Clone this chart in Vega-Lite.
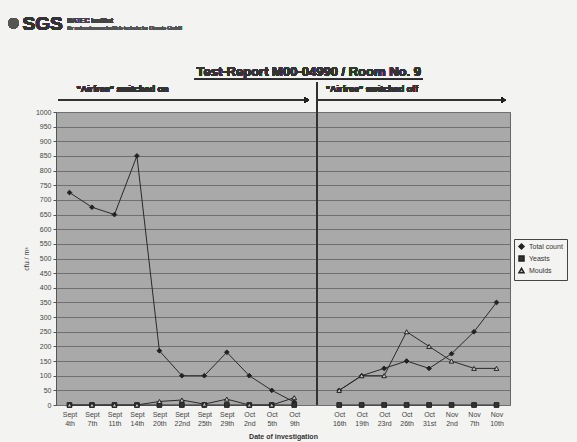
{
  "$schema": "https://vega.github.io/schema/vega-lite/v6.json",
  "width": 454,
  "height": 293,
  "autosize": "none",
  "padding": {"left": 56, "top": 112, "right": 67, "bottom": 37},
  "background": "#f3f3f1",
  "config": {
    "font": "Liberation Sans",
    "view": {"stroke": "#666", "fill": "#a9a9a9"}
  },
  "datasets": {
    "counts": [
      {"date": "Sept 4th", "series": "Total count", "value": 725, "period": 1},
      {"date": "Sept 7th", "series": "Total count", "value": 675, "period": 1},
      {"date": "Sept 11th", "series": "Total count", "value": 650, "period": 1},
      {"date": "Sept 14th", "series": "Total count", "value": 850, "period": 1},
      {"date": "Sept 20th", "series": "Total count", "value": 185, "period": 1},
      {"date": "Sept 22nd", "series": "Total count", "value": 100, "period": 1},
      {"date": "Sept 25th", "series": "Total count", "value": 100, "period": 1},
      {"date": "Sept 29th", "series": "Total count", "value": 180, "period": 1},
      {"date": "Oct 2nd", "series": "Total count", "value": 100, "period": 1},
      {"date": "Oct 5th", "series": "Total count", "value": 50, "period": 1},
      {"date": "Oct 9th", "series": "Total count", "value": 10, "period": 1},
      {"date": "Oct 16th", "series": "Total count", "value": 50, "period": 2},
      {"date": "Oct 19th", "series": "Total count", "value": 100, "period": 2},
      {"date": "Oct 23rd", "series": "Total count", "value": 125, "period": 2},
      {"date": "Oct 26th", "series": "Total count", "value": 150, "period": 2},
      {"date": "Oct 31st", "series": "Total count", "value": 125, "period": 2},
      {"date": "Nov 2nd", "series": "Total count", "value": 175, "period": 2},
      {"date": "Nov 7th", "series": "Total count", "value": 250, "period": 2},
      {"date": "Nov 10th", "series": "Total count", "value": 350, "period": 2},
      {"date": "Sept 4th", "series": "Yeasts", "value": 0, "period": 1},
      {"date": "Sept 7th", "series": "Yeasts", "value": 0, "period": 1},
      {"date": "Sept 11th", "series": "Yeasts", "value": 0, "period": 1},
      {"date": "Sept 14th", "series": "Yeasts", "value": 0, "period": 1},
      {"date": "Sept 20th", "series": "Yeasts", "value": 0, "period": 1},
      {"date": "Sept 22nd", "series": "Yeasts", "value": 0, "period": 1},
      {"date": "Sept 25th", "series": "Yeasts", "value": 0, "period": 1},
      {"date": "Sept 29th", "series": "Yeasts", "value": 0, "period": 1},
      {"date": "Oct 2nd", "series": "Yeasts", "value": 0, "period": 1},
      {"date": "Oct 5th", "series": "Yeasts", "value": 0, "period": 1},
      {"date": "Oct 9th", "series": "Yeasts", "value": 0, "period": 1},
      {"date": "Oct 16th", "series": "Yeasts", "value": 0, "period": 2},
      {"date": "Oct 19th", "series": "Yeasts", "value": 0, "period": 2},
      {"date": "Oct 23rd", "series": "Yeasts", "value": 0, "period": 2},
      {"date": "Oct 26th", "series": "Yeasts", "value": 0, "period": 2},
      {"date": "Oct 31st", "series": "Yeasts", "value": 0, "period": 2},
      {"date": "Nov 2nd", "series": "Yeasts", "value": 0, "period": 2},
      {"date": "Nov 7th", "series": "Yeasts", "value": 0, "period": 2},
      {"date": "Nov 10th", "series": "Yeasts", "value": 0, "period": 2},
      {"date": "Sept 4th", "series": "Moulds", "value": 0, "period": 1},
      {"date": "Sept 7th", "series": "Moulds", "value": 0, "period": 1},
      {"date": "Sept 11th", "series": "Moulds", "value": 0, "period": 1},
      {"date": "Sept 14th", "series": "Moulds", "value": 0, "period": 1},
      {"date": "Sept 20th", "series": "Moulds", "value": 12, "period": 1},
      {"date": "Sept 22nd", "series": "Moulds", "value": 17, "period": 1},
      {"date": "Sept 25th", "series": "Moulds", "value": 3, "period": 1},
      {"date": "Sept 29th", "series": "Moulds", "value": 20, "period": 1},
      {"date": "Oct 2nd", "series": "Moulds", "value": 0, "period": 1},
      {"date": "Oct 5th", "series": "Moulds", "value": 0, "period": 1},
      {"date": "Oct 9th", "series": "Moulds", "value": 25, "period": 1},
      {"date": "Oct 16th", "series": "Moulds", "value": 50, "period": 2},
      {"date": "Oct 19th", "series": "Moulds", "value": 100, "period": 2},
      {"date": "Oct 23rd", "series": "Moulds", "value": 100, "period": 2},
      {"date": "Oct 26th", "series": "Moulds", "value": 250, "period": 2},
      {"date": "Oct 31st", "series": "Moulds", "value": 200, "period": 2},
      {"date": "Nov 2nd", "series": "Moulds", "value": 150, "period": 2},
      {"date": "Nov 7th", "series": "Moulds", "value": 125, "period": 2},
      {"date": "Nov 10th", "series": "Moulds", "value": 125, "period": 2}
    ]
  },
  "data": {"name": "counts"},
  "encoding": {
    "x": {
      "field": "date",
      "type": "nominal",
      "sort": null,
      "scale": {
        "type": "point",
        "padding": 0.6,
        "domain": ["Sept 4th", "Sept 7th", "Sept 11th", "Sept 14th", "Sept 20th", "Sept 22nd", "Sept 25th", "Sept 29th", "Oct 2nd", "Oct 5th", "Oct 9th", "gap", "Oct 16th", "Oct 19th", "Oct 23rd", "Oct 26th", "Oct 31st", "Nov 2nd", "Nov 7th", "Nov 10th"]
      },
      "axis": {
        "title": "Date of investigation",
        "titleFontSize": 7,
        "titleFontWeight": "bold",
        "titleColor": "#333",
        "titlePadding": 6,
        "labelAngle": 0,
        "labelFontSize": 7,
        "labelColor": "#444",
        "labelLineHeight": 9,
        "labelExpr": "datum.value == 'gap' ? '' : split(datum.value, ' ')",
        "ticks": false,
        "domain": false,
        "grid": false,
        "labelPadding": 5
      }
    },
    "y": {
      "field": "value",
      "type": "quantitative",
      "scale": {"domain": [0, 1000], "nice": false},
      "axis": {
        "title": "cfu / m³",
        "titleFontSize": 7,
        "titleFontWeight": "normal",
        "titleColor": "#333",
        "titlePadding": 6,
        "format": "d",
        "values": [0, 50, 100, 150, 200, 250, 300, 350, 400, 450, 500, 550, 600, 650, 700, 750, 800, 850, 900, 950, 1000],
        "labelFontSize": 7,
        "labelColor": "#444",
        "tickSize": 3,
        "tickColor": "#555",
        "domainColor": "#555",
        "gridColor": "#6f6f6f",
        "gridWidth": 1
      }
    }
  },
  "layer": [
    {
      "mark": {"type": "line", "color": "#2a2a2a", "strokeWidth": 1},
      "encoding": {
        "detail": [{"field": "series"}, {"field": "period"}]
      }
    },
    {
      "mark": {"type": "point", "filled": true, "size": 22, "strokeWidth": 1, "stroke": "#222", "opacity": 1},
      "encoding": {
        "shape": {
          "field": "series",
          "type": "nominal",
          "scale": {"domain": ["Total count", "Yeasts", "Moulds"], "range": ["diamond", "square", "triangle-up"]},
          "legend": {
            "title": null,
            "orient": "none",
            "legendX": 458,
            "legendY": 127,
            "strokeColor": "#444",
            "fillColor": "#f3f3f1",
            "padding": 4,
            "labelFontSize": 7,
            "labelColor": "#333",
            "symbolSize": 25,
            "rowPadding": 1
          }
        },
        "fill": {
          "field": "series",
          "type": "nominal",
          "scale": {"domain": ["Total count", "Yeasts", "Moulds"], "range": ["#222222", "#333333", "#c8c8c8"]},
          "legend": null
        }
      }
    },
    {
      "mark": {"type": "rule", "color": "#333", "strokeWidth": 1, "clip": false},
      "encoding": {
        "x": {"datum": "gap"},
        "y": {"datum": 1102},
        "y2": {"datum": 0}
      }
    },
    {
      "mark": {"type": "rule", "color": "#333", "strokeWidth": 1, "clip": false, "xOffset": -11, "x2Offset": -8},
      "encoding": {
        "x": {"datum": "Sept 4th"},
        "x2": {"datum": "gap"},
        "y": {"datum": 1041}
      }
    },
    {
      "mark": {"type": "point", "shape": "triangle-right", "filled": true, "color": "#222", "size": 30, "opacity": 1, "clip": false, "xOffset": -10},
      "encoding": {
        "x": {"datum": "gap"},
        "y": {"datum": 1041}
      }
    },
    {
      "mark": {"type": "rule", "color": "#333", "strokeWidth": 1, "clip": false, "x2Offset": 6},
      "encoding": {
        "x": {"datum": "gap"},
        "x2": {"datum": "Nov 10th"},
        "y": {"datum": 1041}
      }
    },
    {
      "mark": {"type": "point", "shape": "triangle-right", "filled": true, "color": "#222", "size": 30, "opacity": 1, "clip": false, "xOffset": 7},
      "encoding": {
        "x": {"datum": "Nov 10th"},
        "y": {"datum": 1041}
      }
    },
    {
      "mark": {"type": "text", "align": "left", "baseline": "alphabetic", "fontSize": 9, "fontWeight": "bold", "color": "#333", "dx": 7, "clip": false},
      "encoding": {
        "x": {"datum": "Sept 4th"},
        "y": {"datum": 1068},
        "text": {"value": "\"Airfree\" switched on"}
      }
    },
    {
      "mark": {"type": "text", "align": "left", "baseline": "alphabetic", "fontSize": 9, "fontWeight": "bold", "color": "#333", "dx": 9, "clip": false},
      "encoding": {
        "x": {"datum": "gap"},
        "y": {"datum": 1068},
        "text": {"value": "\"Airfree\" switched off"}
      }
    },
    {
      "mark": {"type": "text", "align": "center", "baseline": "alphabetic", "fontSize": 13, "fontWeight": "bold", "color": "#333", "dx": -8, "clip": false},
      "encoding": {
        "x": {"datum": "gap"},
        "y": {"datum": 1122},
        "text": {"value": "Test-Report M00-04990 / Room No. 9"}
      }
    },
    {
      "mark": {"type": "rule", "color": "#333", "strokeWidth": 1, "clip": false, "xOffset": -10, "x2Offset": 16},
      "encoding": {
        "x": {"datum": "Sept 25th"},
        "x2": {"datum": "Oct 26th"},
        "y": {"datum": 1114}
      }
    },
    {
      "mark": {"type": "text", "align": "left", "baseline": "middle", "fontSize": 19, "fontWeight": "bold", "color": "#333", "dx": -47, "clip": false},
      "encoding": {
        "x": {"datum": "Sept 4th"},
        "y": {"datum": 1300},
        "text": {"value": "SGS"}
      }
    },
    {
      "mark": {"type": "point", "shape": "circle", "filled": true, "color": "#555", "size": 110, "opacity": 1, "clip": false, "xOffset": -56},
      "encoding": {
        "x": {"datum": "Sept 4th"},
        "y": {"datum": 1303}
      }
    },
    {
      "mark": {"type": "text", "align": "left", "baseline": "alphabetic", "fontSize": 6.5, "fontWeight": "bold", "color": "#444", "dx": -2, "clip": false},
      "encoding": {
        "x": {"datum": "Sept 4th"},
        "y": {"datum": 1303},
        "text": {"value": "NATEC Institut"}
      }
    },
    {
      "mark": {"type": "text", "align": "left", "baseline": "alphabetic", "fontSize": 5, "color": "#555", "dx": -2, "clip": false},
      "encoding": {
        "x": {"datum": "Sept 4th"},
        "y": {"datum": 1279},
        "text": {"value": "für naturwissenschaftlich-technische Dienste GmbH"}
      }
    }
  ]
}
